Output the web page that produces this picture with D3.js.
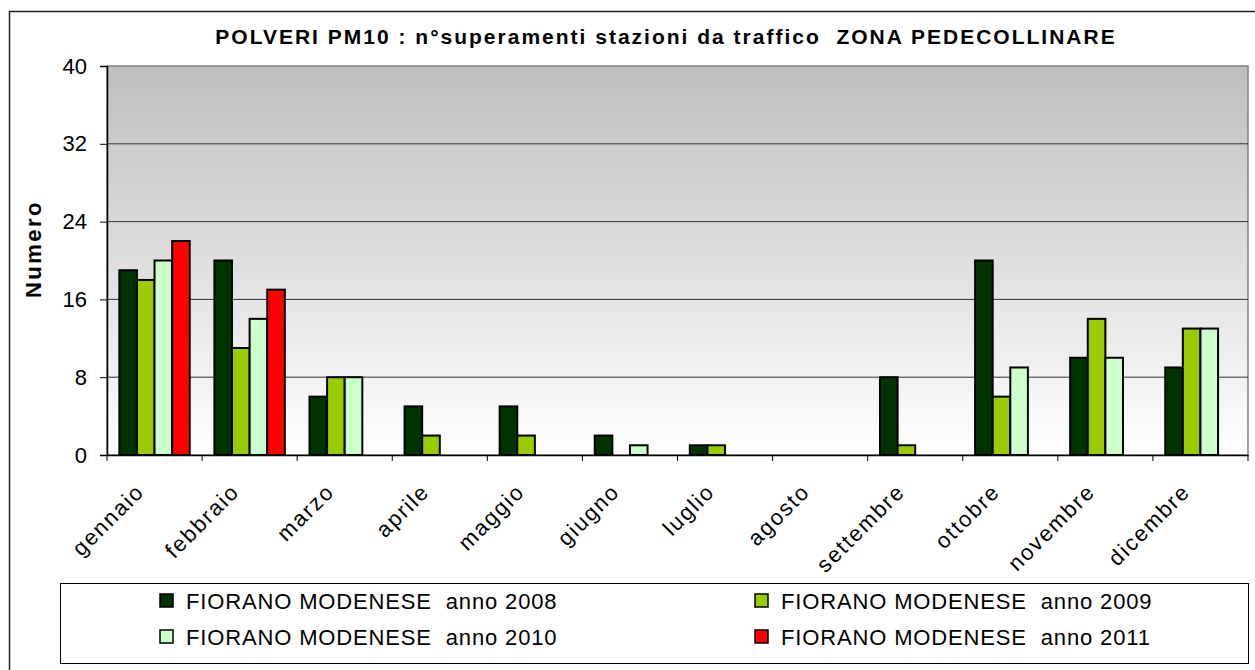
<!DOCTYPE html>
<html>
<head>
	<meta charset="utf-8">
	<title>PM10</title>
	<script src="https://d3js.org/d3.v7.min.js"></script>
	<style>
		body { margin: 0; background: #fff; }
		svg { display: block; }
		text { font-family: "Liberation Sans", Arial, sans-serif; fill: #000; white-space: pre; }
		text.title { font-size: 21px; font-weight: bold; letter-spacing: 2px; }
		text.ylabel { font-size: 22px; font-weight: bold; letter-spacing: 2.5px; }
		.yaxis text { font-size: 22px; }
		.xlab { font-size: 22px; letter-spacing: 1.8px; }
		text.legend { font-size: 22px; letter-spacing: 0.85px; }
		.grid line { stroke: #333; stroke-width: 1; }
		.bar { stroke: #000; stroke-width: 2; }
	</style>
</head>
<body>
	<svg width="1255" height="670"></svg>
<script>
	// dati
	const months = ['gennaio', 'febbraio', 'marzo', 'aprile', 'maggio', 'giugno',
		'luglio', 'agosto', 'settembre', 'ottobre', 'novembre', 'dicembre'];
	const seriesNames = ['FIORANO MODENESE  anno 2008', 'FIORANO MODENESE  anno 2009',
		'FIORANO MODENESE  anno 2010', 'FIORANO MODENESE  anno 2011'];
	const y2008 = [19, 20, 6, 5, 5, 2, 1, 0, 8, 20, 10, 9];
	const y2009 = [18, 11, 8, 2, 2, 0, 1, 0, 1, 6, 14, 13];
	const y2010 = [20, 14, 8, 0, 0, 1, 0, 0, 0, 9, 10, 13];
	const y2011 = [22, 17, null, null, null, null, null, null, null, null, null, null];
	const yTicks = [0, 8, 16, 24, 32, 40];
	const colors = ['#003300', '#99cc00', '#ccffcc', '#ff0000'];

	const seriesValues = [y2008, y2009, y2010, y2011];

	const svg = d3.select('svg');
	const plotL = 107, plotR = 1248, plotT = 66, plotB = 455;

	// cornice esterna
	svg.append('rect')
		.attr('x', 9.5).attr('y', 11.5)
		.attr('width', 1260).attr('height', 680)
		.attr('fill', 'none').attr('stroke', '#222').attr('stroke-width', 1.5);

	const x = d3.scaleBand().domain(months).range([plotL, plotR]);
	const xs = d3.scaleBand().domain(d3.range(4)).range([0, x.bandwidth()]).paddingOuter(0.7);
	const y = d3.scaleLinear().domain([0, 40]).range([plotB, plotT]);

	// sfondo sfumato
	const grad = svg.append('defs').append('linearGradient')
		.attr('id', 'bg').attr('x1', 0).attr('y1', 0).attr('x2', 0).attr('y2', 1);
	grad.append('stop').attr('offset', '0%').attr('stop-color', '#bebebe');
	grad.append('stop').attr('offset', '100%').attr('stop-color', '#ffffff');

	svg.append('rect')
		.attr('x', plotL).attr('y', plotT)
		.attr('width', plotR - plotL).attr('height', plotB - plotT)
		.attr('fill', 'url(#bg)')
		.attr('stroke', '#808080').attr('stroke-width', 1.5);

	// griglia
	svg.append('g').attr('class', 'grid')
		.selectAll('line').data(yTicks.filter(t => t > 0 && t < 40)).enter()
		.append('line')
		.attr('x1', plotL).attr('x2', plotR)
		.attr('y1', d => y(d)).attr('y2', d => y(d));

	// barre
	const groups = svg.append('g').selectAll('g')
		.data(seriesValues).enter().append('g')
		.attr('fill', (d, i) => colors[i]);

	groups.each(function (vals, si) {
		d3.select(this).selectAll('rect')
			.data(vals.map((v, mi) => ({ m: months[mi], v: v })).filter(d => d.v))
			.enter().append('rect')
			.attr('class', 'bar')
			.attr('x', d => x(d.m) + xs(si))
			.attr('width', xs.bandwidth())
			.attr('y', d => y(d.v))
			.attr('height', d => y(0) - y(d.v));
	});

	// asse y
	const yAxis = svg.append('g').attr('class', 'yaxis')
		.attr('transform', `translate(${plotL},0)`)
		.call(d3.axisLeft(y).tickValues(yTicks).tickSize(7).tickPadding(13));
	yAxis.select('.domain').attr('stroke', '#000').attr('stroke-width', 1.5);
	yAxis.selectAll('.tick line').attr('stroke', '#000');

	// asse x
	const xAxis = svg.append('g')
		.attr('transform', `translate(0,${plotB})`)
		.call(d3.axisBottom(x).tickSize(0).tickFormat(''));
	xAxis.select('.domain').attr('stroke', '#000').attr('stroke-width', 1.5);
	svg.append('g').selectAll('line')
		.data(months.concat(['end'])).enter().append('line')
		.attr('x1', (d, i) => plotL + i * x.step()).attr('x2', (d, i) => plotL + i * x.step())
		.attr('y1', plotB).attr('y2', plotB + 6)
		.attr('stroke', '#000');

	svg.append('g').selectAll('text')
		.data(months).enter().append('text')
		.attr('class', 'xlab')
		.attr('text-anchor', 'end')
		.attr('transform', d => `translate(${x(d) + x.bandwidth() / 2 - 9},${plotB + 38}) rotate(-45)`)
		.text(d => d);

	// titoli
	svg.append('text')
		.attr('class', 'title')
		.attr('x', 666).attr('y', 44)
		.attr('text-anchor', 'middle')
		.text('POLVERI PM10 : n°superamenti stazioni da traffico  ZONA PEDECOLLINARE');

	svg.append('text')
		.attr('class', 'ylabel')
		.attr('transform', 'translate(41,249) rotate(-90)')
		.attr('text-anchor', 'middle')
		.text('Numero');

	// legenda
	svg.append('rect')
		.attr('x', 60.5).attr('y', 583.5)
		.attr('width', 1188).attr('height', 80)
		.attr('fill', '#fff').attr('stroke', '#000').attr('stroke-width', 1);

	const legPos = [[160, 601], [755, 601], [160, 637], [755, 637]];
	const leg = svg.append('g').selectAll('g')
		.data(seriesNames).enter().append('g')
		.attr('transform', (d, i) => `translate(${legPos[i][0]},${legPos[i][1]})`);
	leg.append('rect')
		.attr('x', 0).attr('y', -7).attr('width', 13).attr('height', 13)
		.attr('fill', (d, i) => colors[i]).attr('stroke', '#000').attr('stroke-width', 1.5);
	leg.append('text')
		.attr('class', 'legend')
		.attr('x', 26).attr('y', 8)
		.text(d => d);
</script>
</body>
</html>
